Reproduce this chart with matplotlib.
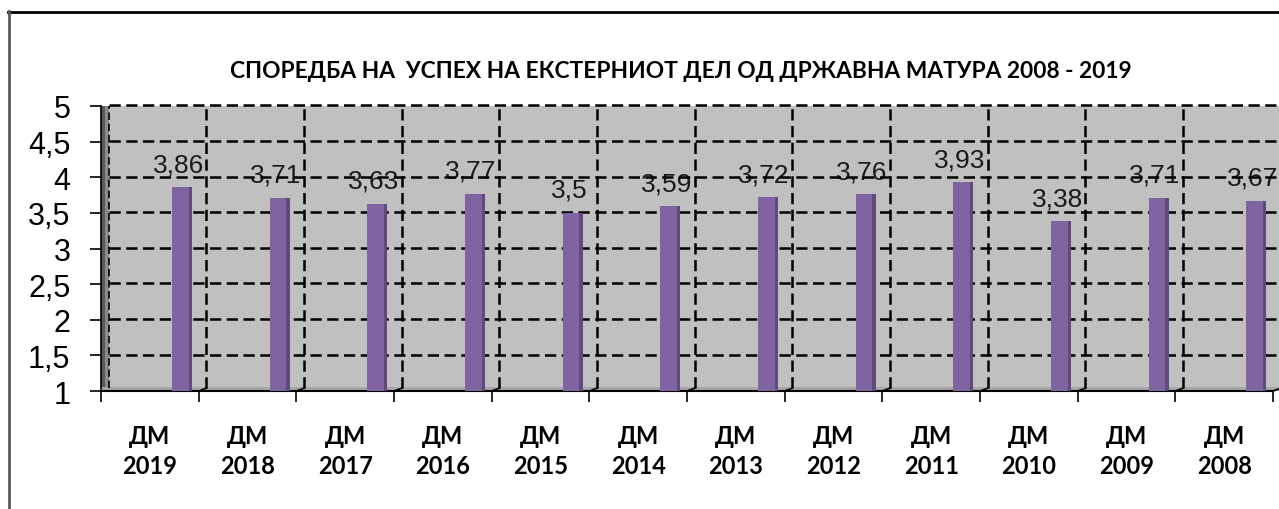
import matplotlib
matplotlib.use('Agg')
import matplotlib.pyplot as plt
from matplotlib.patches import Rectangle
from matplotlib.lines import Line2D
import numpy as np

# data
categories = ['ДМ\n2019', 'ДМ\n2018', 'ДМ\n2017', 'ДМ\n2016', 'ДМ\n2015', 'ДМ\n2014',
              'ДМ\n2013', 'ДМ\n2012', 'ДМ\n2011', 'ДМ\n2010', 'ДМ\n2009', 'ДМ\n2008']
values = [3.86, 3.71, 3.63, 3.77, 3.5, 3.59, 3.72, 3.76, 3.93, 3.38, 3.71, 3.67]
value_labels = ['3,86', '3,71', '3,63', '3,77', '3,5', '3,59',
                '3,72', '3,76', '3,93', '3,38', '3,71', '3,67']
yticks = [1, 1.5, 2, 2.5, 3, 3.5, 4, 4.5, 5]
ytick_labels = ['1', '1,5', '2', '2,5', '3', '3,5', '4', '4,5', '5']
title = 'СПОРЕДБА НА  УСПЕХ НА ЕКСТЕРНИОТ ДЕЛ ОД ДРЖАВНА МАТУРА 2008 - 2019'

W, H = 1279, 510
fig = plt.figure(figsize=(W / 100, H / 100), dpi=100)
ax = fig.add_axes([101 / W, 1 - 392 / H, 1172 / W, 285 / H])

n = len(values)
x = np.arange(n)
ax.set_xlim(0, n)
ax.set_ylim(1, 5)

# plot area background + 3d wall / floor
ax.add_patch(Rectangle((0, 1), n + 0.1, 4, facecolor='#c0c0c0', edgecolor='none',
                       zorder=0, clip_on=False))
ax.add_patch(Rectangle((0.0, 0), 0.0068, 1, transform=ax.transAxes, facecolor='#8a8a8a',
                       edgecolor='none', zorder=1))
ax.add_patch(Rectangle((0.0, 0), 0.0035, 1, transform=ax.transAxes, facecolor='#5a5a5a',
                       edgecolor='none', zorder=1))
ax.add_patch(Rectangle((0, 1), n + 0.1, 0.05, facecolor='#a6a6a6', edgecolor='none',
                       zorder=1, clip_on=False))

# dashed grid
for yv in yticks[1:]:
    ax.plot([0.08, n + 0.1], [yv + 0.01, yv + 0.01], color='black', lw=1.8,
            dashes=(4.5, 2.2), zorder=2, clip_on=False)
ax.plot([0.08, 0.08], [1.04, 5], color='black', lw=1.2, dashes=(4.5, 2.2), zorder=2)
for xv in range(1, n + 1):
    ax.plot([xv + 0.08, xv + 0.08], [1.04, 5], color='black', lw=1.8,
            dashes=(4.5, 2.2), zorder=2, clip_on=False)
    ax.plot([xv, xv + 0.08], [1, 1.04], color='black', lw=1.2, zorder=2, clip_on=False)

# bars with dark side face
ax.bar(x + 0.727, np.array(values) - 1, bottom=1, width=0.17, align='edge',
       color='#8064a2', edgecolor='none', zorder=3)
ax.bar(x + 0.897, np.array(values) - 1, bottom=1, width=0.035, align='edge',
       color='#5f4a7b', edgecolor='none', zorder=3)

for xi, v, lab in zip(x, values, value_labels):
    ax.annotate(lab, (xi + 0.79, v), xytext=(0, 8), textcoords='offset points',
                ha='center', va='bottom', fontsize=19, family='Liberation Sans',
                color='#1a1a1a', zorder=1.5)

# axes
for s in ['top', 'right']:
    ax.spines[s].set_visible(False)
ax.spines['left'].set_linewidth(1.2)
ax.spines['bottom'].set_linewidth(1.5)
ax.set_yticks(yticks)
ax.set_yticklabels(ytick_labels, fontsize=22, family='Liberation Sans')
ax.tick_params(axis='y', length=8, width=1.2, pad=14)
ax.set_xticks(np.arange(n + 1))
ax.set_xticklabels([])
ax.tick_params(axis='x', which='major', length=8, width=1.2)
ax.set_xticks(x + 0.5, minor=True)
ax.set_xticklabels(categories, minor=True, fontsize=17, family='Lato',
                   fontweight='bold', linespacing=1.35)
ax.tick_params(axis='x', which='minor', length=0, pad=24)

fig.text(681 / W, 1 - 72 / H, title, ha='center', va='center', fontsize=16.4,
         family='Lato', fontweight='bold')

# chart frame
fig.add_artist(Line2D([8 / W, 1], [1 - 12.5 / H] * 2, color='black', lw=2,
                      transform=fig.transFigure))
fig.add_artist(Line2D([8.5 / W] * 2, [0, 1 - 12 / H], color='#595959', lw=2,
                      transform=fig.transFigure))

fig.savefig('out.png', dpi=100)
